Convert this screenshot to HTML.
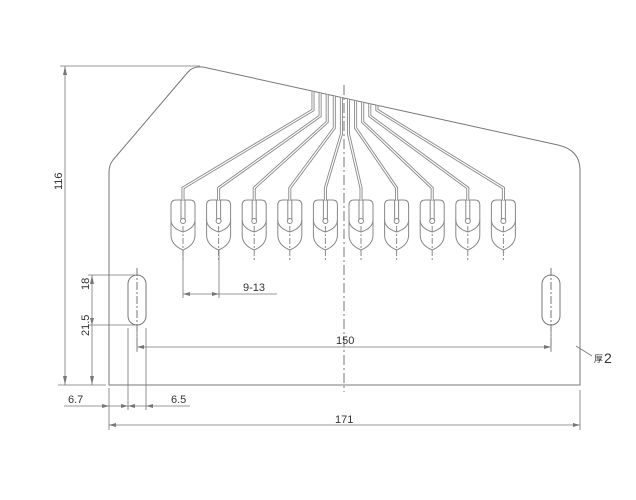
<!DOCTYPE html>
<html><head><meta charset="utf-8"><style>body{margin:0;background:#fff}svg{display:block}text{font-family:"Liberation Sans","Noto Sans CJK SC",sans-serif;fill:#333}</style></head>
<body>
<svg width="636" height="500" viewBox="0 0 636 500" xmlns="http://www.w3.org/2000/svg">
<g fill="none" stroke="#777" stroke-width="1">
<!-- outline -->
<path d="M109,385 V172 Q109,165 113,160 L188,72 Q193,66 203,67 L558,145 Q580,150 580,170 V385 Z"/>
<!-- centerline -->
<line x1="344" y1="85" x2="344" y2="392" stroke-dasharray="10,3,2,3"/>
<!-- slots -->
<rect x="128" y="275" width="18" height="50" rx="9"/>
<rect x="542" y="275" width="18" height="50" rx="9"/>
<line x1="137" y1="268" x2="137" y2="350" stroke-dasharray="8,2,2,2"/>
<line x1="551" y1="268" x2="551" y2="350" stroke-dasharray="8,2,2,2"/>
</g>
<g id="fingers" fill="none" stroke="#888" stroke-width="1"></g>
<g id="wires" fill="none"></g>
<g fill="none" stroke="#777" stroke-width="0.8">
<!-- 116 -->
<line x1="60" y1="66" x2="200" y2="66"/>
<line x1="65" y1="66" x2="65" y2="385"/>
<line x1="58" y1="385" x2="106" y2="385"/>
<!-- 18 / 21.5 -->
<line x1="88" y1="275" x2="135" y2="275"/>
<line x1="88" y1="325" x2="135" y2="325"/>
<line x1="92" y1="275" x2="92" y2="385"/>
<!-- bottom dims -->
<line x1="109" y1="388" x2="109" y2="430"/>
<line x1="128" y1="328" x2="128" y2="410"/>
<line x1="146" y1="328" x2="146" y2="410"/>
<line x1="64" y1="406" x2="190" y2="406"/>
<line x1="580" y1="390" x2="580" y2="430"/>
<line x1="109" y1="425" x2="580" y2="425"/>
<!-- 150 -->
<line x1="137" y1="325" x2="137" y2="352"/>
<line x1="551" y1="325" x2="551" y2="352"/>
<line x1="137" y1="347" x2="551" y2="347"/>
<!-- 9-13 -->
<line x1="183" y1="250" x2="183" y2="298"/>
<line x1="219" y1="250" x2="219" y2="298"/>
<line x1="183" y1="294" x2="277" y2="294"/>
<!-- leader -->
<line x1="576" y1="346" x2="592" y2="356"/>
</g>
<g fill="#777">
<path d="M65,66 l-2,9 h4z"/><path d="M65,385 l-2,-9 h4z"/>
<path d="M92,275 l-2,9 h4z"/><path d="M92,385 l-2,-9 h4z"/><path d="M92,325 l-2,-7 h4z"/>
<path d="M109,406 l-7,-2 v4z"/><path d="M128,406 l-7,-2 v4z"/><path d="M128,406 l7,-2 v4z"/><path d="M146,406 l7,-2 v4z"/>
<path d="M109,425 l7,-2 v4z"/><path d="M580,425 l-7,-2 v4z"/>
<path d="M137,347 l7,-2 v4z"/><path d="M551,347 l-7,-2 v4z"/>
<path d="M183,294 l7,-2 v4z"/><path d="M219,294 l-7,-2 v4z"/>
</g>
<text x="0" y="0" font-size="11" transform="translate(62,190) rotate(-90)">116</text>
<text x="0" y="0" font-size="11" transform="translate(89,290) rotate(-90)">18</text>
<text x="0" y="0" font-size="11" transform="translate(89,336) rotate(-90)">21.5</text>
<text x="68" y="403" font-size="11">6.7</text>
<text x="171" y="403" font-size="11">6.5</text>
<text x="335" y="423" font-size="11">171</text>
<text x="336" y="344" font-size="11">150</text>
<text x="243" y="291" font-size="11">9-13</text>
<text x="594" y="362" font-size="9">厚</text>
<text x="604" y="363" font-size="14">2</text>
<script>
var f=document.getElementById('fingers'),w=document.getElementById('wires'),ns='http://www.w3.org/2000/svg';
function el(p,t,a){var e=document.createElementNS(ns,t);for(var k in a)e.setAttribute(k,a[k]);p.appendChild(e);return e;}
for(var i=0;i<10;i++){
 var cx=183+i*35.6;
 el(f,'path',{d:'M'+(cx-12)+',205 q0,-5 5,-5 h14 q5,0 5,5 v15 q0,8 -12,12 q-12,-4 -12,-12 z'});
 el(f,'path',{d:'M'+(cx-12)+',220 v15 q0,10 12,15 q12,-5 12,-15 v-15'});
 el(f,'path',{d:'M'+(cx-2)+',200 v20 M'+(cx+2)+',200 v20'});
 el(f,'circle',{cx:cx,cy:221,r:2.5});
 el(f,'line',{x1:cx,y1:226,x2:cx,y2:260,'stroke-dasharray':'6,2,2,2'});
 var tx=313+i*7.1, ty=66+(tx-200)*0.2175;
 var by=(i<5)?110+i*6:110+(9-i)*6;
 var d='M'+tx+','+(ty+1)+' V'+by+' L'+cx+',188 V200';
 el(w,'path',{d:d,stroke:'#888','stroke-width':3});
 el(w,'path',{d:d,stroke:'#fff','stroke-width':1.2});
}
</script>
</svg>
</body></html>
